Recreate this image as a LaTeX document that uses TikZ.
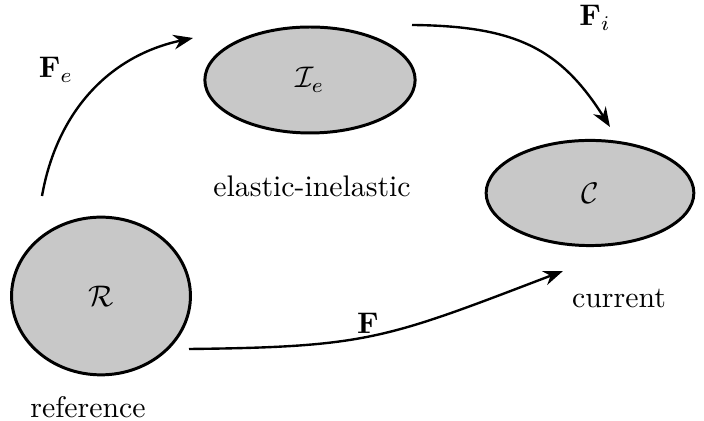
\documentclass[tikz,border=0pt]{standalone}
\usepackage{xcolor}
\usepackage{tikz}
\usetikzlibrary{arrows.meta, shapes.geometric, calc, positioning}
\usepackage{amsmath}
\definecolor{BodyFill}{HTML}{C8C8C8}

\begin{document}
\begin{tikzpicture}[x=0.0118cm, y=-0.0118cm, >=Stealth, line width=0.8pt]
  \useasboundingbox (0,0) rectangle (704,421);
  \node[ellipse, draw, line width=1pt, fill=BodyFill, inner sep=0pt, minimum width=2.11cm, minimum height=1.86cm] (ref) at (101,296) {$\mathcal{R}$};
  \node[ellipse, draw, line width=1pt, fill=BodyFill, inner sep=0pt, minimum width=2.48cm, minimum height=1.25cm] (int) at (310,80) {$\mathcal{I}_e$};
  \node[ellipse, draw, line width=1pt, fill=BodyFill, inner sep=0pt, minimum width=2.45cm, minimum height=1.24cm] (cur) at (590,193) {$\mathcal{C}$};
  \node (reflab) at (88,407) {reference};
  \node (intlab) at (312,186) {elastic-inelastic};
  \node (curlab) at (619,299) {current};
  % free ends of the maps
  \coordinate (feA) at (42,196);
  \coordinate (feB) at (193,38);
  \coordinate (fiA) at (412,25);
  \coordinate (fiB) at (610,127);
  \coordinate (fA) at (189,349);
  \coordinate (fB) at (563,271);
  \draw[->] (feA) to[out=80, in=192] (feB);
  \draw[->] (fiA) .. controls (515,26) and (560,48) .. (fiB);
  \draw[->] (fA) .. controls (368,347) and (385,339) .. (fB);
  \node (fe) at (56,70) {$\mathbf{F}_e$};
  \node (fi) at (595,18) {$\mathbf{F}_i$};
  \node (f) at (368,323) {$\mathbf{F}$};
\end{tikzpicture}
\end{document}
